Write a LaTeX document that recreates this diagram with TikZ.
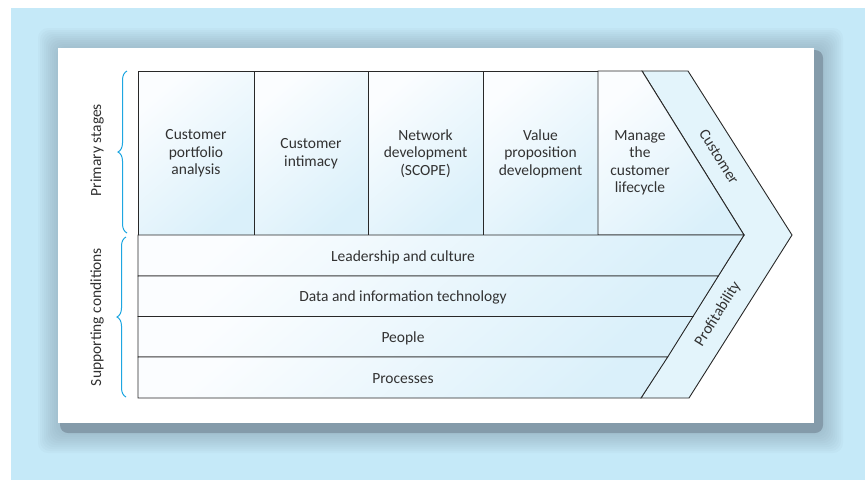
\documentclass[tikz,border=0pt]{standalone}
\usepackage{fontspec}
\setmainfont{Carlito}
\usepackage{tikz}
\usetikzlibrary{decorations.pathreplacing}
\definecolor{bgblue}{RGB}{197,233,248}
\definecolor{shadowgrey}{RGB}{132,155,170}
\definecolor{boxlight}{RGB}{251,253,255}
\definecolor{boxblue}{RGB}{218,240,250}
\definecolor{bandblue}{RGB}{227,244,251}
\definecolor{braceblue}{RGB}{30,167,225}
\definecolor{edgegrey}{RGB}{40,40,40}
\definecolor{textgrey}{RGB}{50,50,50}

\begin{document}
\begin{tikzpicture}[x=1pt, y=-1pt,
    stagebox/.style={draw=edgegrey, line width=0.9pt, top color=boxlight, bottom color=boxblue, shading angle=40},
    bandbox/.style={draw=edgegrey, line width=0.9pt, fill=bandblue},
    lbl/.style={text=textgrey, align=center, font=\fontsize{15.5}{17.5}\selectfont},
    bracelbl/.style={text=textgrey, rotate=90, font=\fontsize{15.5}{17}\selectfont},
    curly/.style={draw=braceblue, line width=1pt, decorate, decoration={brace, amplitude=9pt, mirror}}]
  \useasboundingbox (0,0) rectangle (865,480);
  % background and panel with shadow
  \fill[bgblue] (11,8) rectangle (865,480);
  \foreach \g in {2,4,...,20}
    \fill[shadowgrey, opacity=0.06, rounded corners=10] (58-\g,48-\g) rectangle (823+\g,433+\g);
  \fill[shadowgrey, rounded corners=8] (60,50) rectangle (823,433);
  \fill[white] (58,48) rectangle (814,423);

  % chevron band
  \draw[bandbox] (642,71) -- (688,71) -- (792,235) -- (689,398) -- (641,398) -- (744,235) -- cycle;

  % primary stages
  \draw[stagebox] (138,71) rectangle (254,235);
  \draw[stagebox] (254,71) rectangle (368,235);
  \draw[stagebox] (368,71) rectangle (483,235);
  \draw[stagebox] (483,71) rectangle (598,235);
  \draw[stagebox] (598,71) -- (642,71) -- (744,235) -- (598,235) -- cycle;
  \node[lbl] (portfolio) at (196,153.5) {Customer\\portfolio\\analysis};
  \node[lbl] (intimacy) at (311,153.5) {Customer\\intimacy};
  \node[lbl] (network) at (425.5,153.5) {Network\\development\\(SCOPE)};
  \node[lbl] (valueprop) at (540.5,153.5) {Value\\proposition\\development};
  \node[lbl] (lifecycle) at (640,163) {Manage\\the\\customer\\lifecycle};

  % supporting conditions
  \draw[stagebox] (138,235) -- (744,235) -- (718.3,276) -- (138,276) -- cycle;
  \draw[stagebox] (138,276) -- (718.3,276) -- (693,316.5) -- (138,316.5) -- cycle;
  \draw[stagebox] (138,316.5) -- (693,316.5) -- (667.7,357) -- (138,357) -- cycle;
  \draw[stagebox] (138,357) -- (667.7,357) -- (641,398) -- (138,398) -- cycle;
  \node[lbl] (leadership) at (403,257) {Leadership and culture};
  \node[lbl] (datait) at (403,297.5) {Data and information technology};
  \node[lbl] (people) at (403,338.5) {People};
  \node[lbl] (processes) at (403,379) {Processes};

  % chevron labels
  \node[lbl, rotate=-58] (customer) at (719,157) {Customer};
  \node[lbl, rotate=58] (profit) at (718,314) {Profitability};

  % braces
  \draw[curly] (127,71) -- (127,233);
  \draw[curly] (126,237) -- (126,397);
  \node[bracelbl] (primary) at (97,150) {Primary stages};
  \node[bracelbl] (supporting) at (97,317) {Supporting conditions};
\end{tikzpicture}
\end{document}
